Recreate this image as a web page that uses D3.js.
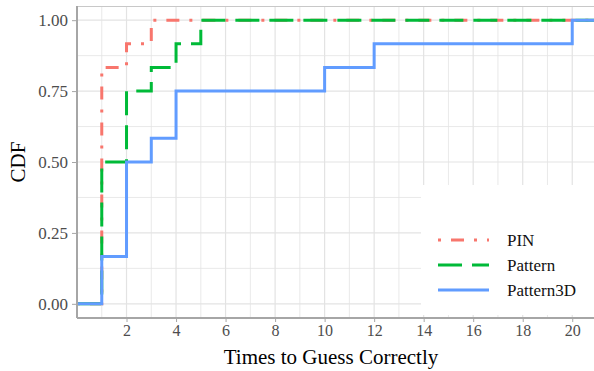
<!DOCTYPE html>
<html>
<head>
<meta charset="utf-8">
<script src="https://cdn.jsdelivr.net/npm/d3@7"></script>
<style>
  body { margin: 0; background: #fff; }
  svg { display: block; }
  svg text { font-family: "Liberation Serif", "Times New Roman", serif; }
</style>
</head>
<body>
<svg id="chart"></svg>
<script>
// series: x where the ECDF steps, and the CDF level reached at that x
var seriesNames = ["PIN", "Pattern", "Pattern3D"];
var pinX = [1, 2, 3];
var pinY = [10/12, 11/12, 1];
var patternX = [1, 2, 3, 4, 5];
var patternY = [6/12, 9/12, 10/12, 11/12, 1];
var pattern3dX = [1, 2, 3, 4, 10, 12, 20];
var pattern3dY = [2/12, 6/12, 7/12, 9/12, 10/12, 11/12, 1];
var xTicks = [2, 4, 6, 8, 10, 12, 14, 16, 18, 20];
var yTicks = [0, 0.25, 0.5, 0.75, 1];

var colors = ["#F8766D", "#00BA38", "#619CFF"];
var dashes = ["3,10,13,10", "24,10", null];

var W = 594, H = 371,
    pl = 77, pr = 597, pt = 6, pb = 318;

var svg = d3.select("#chart").attr("width", W).attr("height", H);

var x = d3.scaleLinear().domain([0, 21]).range([pl, pr]);
var y = d3.scaleLinear().domain([-0.05, 1.05]).range([pb, pt]);

// grid
var g = svg.append("g");
var minorX = d3.range(1, 21, 2), minorY = [0.125, 0.375, 0.625, 0.875];
g.selectAll(".gx").data(minorX.concat(xTicks)).enter().append("line")
  .attr("x1", d => x(d)).attr("x2", d => x(d))
  .attr("y1", pt).attr("y2", pb)
  .attr("stroke", "#e3e3e3").attr("stroke-width", d => d % 2 ? 0.8 : 1.2);
g.selectAll(".gy").data(minorY.concat(yTicks)).enter().append("line")
  .attr("x1", pl).attr("x2", pr)
  .attr("y1", d => y(d)).attr("y2", d => y(d))
  .attr("stroke", "#e3e3e3").attr("stroke-width", d => yTicks.indexOf(d) < 0 ? 0.8 : 1.2);

// top border
svg.append("line").attr("x1", pl).attr("x2", pr).attr("y1", pt + 0.5).attr("y2", pt + 0.5)
  .attr("stroke", "#c8c8c8").attr("stroke-width", 1);

// step lines
var data = [[pinX, pinY], [patternX, patternY], [pattern3dX, pattern3dY]].map(function(s) {
  var pts = [[0, 0]];
  s[0].forEach(function(v, i) { pts.push([v, s[1][i]]); });
  pts.push([21, 1]);
  return pts;
});
var line = d3.line().x(d => x(d[0])).y(d => y(d[1])).curve(d3.curveStepAfter);
data.forEach(function(d, i) {
  svg.append("path").datum(d)
    .attr("d", line)
    .attr("fill", "none")
    .attr("stroke", colors[i])
    .attr("stroke-width", 3)
    .attr("stroke-dasharray", dashes[i]);
});

// legend
var lg = svg.append("g");
lg.append("rect").attr("x", 421).attr("y", 185).attr("width", 200).attr("height", 130).attr("fill", "#fff");
seriesNames.forEach(function(name, i) {
  var yy = 240 + i * 25;
  lg.append("line").attr("x1", 438).attr("x2", 489).attr("y1", yy).attr("y2", yy)
    .attr("stroke", colors[i]).attr("stroke-width", 3)
    .attr("stroke-dasharray", dashes[i]);
  lg.append("text").attr("x", 507).attr("y", yy).attr("dy", "0.35em")
    .style("font-size", "17px").attr("fill", "#111").text(name);
});

// axes
var xAxis = svg.append("g").attr("transform", "translate(0," + pb + ")")
  .call(d3.axisBottom(x).tickValues(xTicks).tickSize(4).tickPadding(3));
var yAxis = svg.append("g").attr("transform", "translate(" + pl + ",0)")
  .call(d3.axisLeft(y).tickValues(yTicks).tickFormat(d3.format(".2f")).tickSize(5).tickPadding(4));
[xAxis, yAxis].forEach(function(a) {
  a.attr("font-family", null).attr("font-size", null);
  a.select(".domain").attr("stroke", "#a6a6a6").attr("stroke-width", 2);
  a.selectAll(".tick line").attr("stroke", "#a6a6a6").attr("stroke-width", 1);
  a.selectAll("text").attr("fill", "#4d4d4d").style("font-size", "16px");
});
yAxis.selectAll("text").style("font-size", "17px");
xAxis.select(".domain").attr("d", "M" + pl + ",0H" + pr);
yAxis.select(".domain").attr("d", "M0," + pt + "V" + pb);

// titles
svg.append("text").attr("x", 331).attr("y", 364)
  .attr("text-anchor", "middle").style("font-size", "21px").attr("fill", "#000")
  .text("Times to Guess Correctly");
svg.append("text").attr("transform", "translate(25," + ((pt + pb) / 2) + ") rotate(-90)")
  .attr("text-anchor", "middle").style("font-size", "21px").attr("fill", "#000")
  .text("CDF");
</script>
</body>
</html>
